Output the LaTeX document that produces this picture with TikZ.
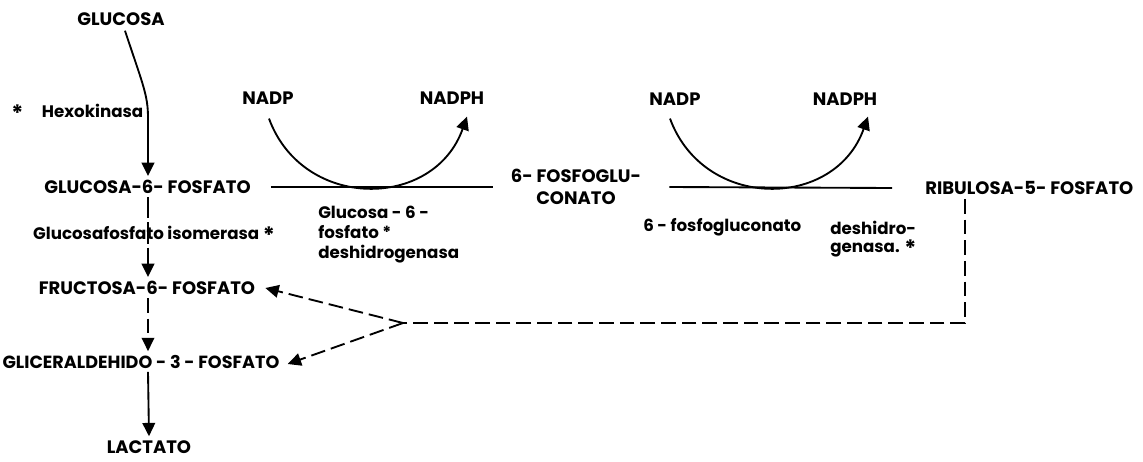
\documentclass[tikz,border=0pt]{standalone}
\usepackage{fontspec}
\setmainfont{Poppins}
\usetikzlibrary{arrows.meta,calc}
\newcommand\enzstar{\raisebox{-0.4ex}{\scalebox{1.35}{*}}}
\begin{document}
\begin{tikzpicture}[x=0.75pt,y=-0.75pt,
  lbl/.style={inner sep=0pt,font=\fontsize{13.5}{17}\selectfont\bfseries},
  enz/.style={inner sep=0pt,align=left,font=\fontsize{12.5}{13.5}\selectfont\bfseries},
  flow/.style={line width=1.4pt},
  tip/.style={-{Triangle[width=9.5pt,length=10pt]}},
  dashflow/.style={dash pattern=on 11pt off 4.5pt},
  longdash/.style={dash pattern=on 16pt off 3pt}]
\useasboundingbox (0,0) rectangle (1143,461);

% metabolites of the main (glycolytic) axis
\node[lbl] (glc)  at (121,19)    {GLUCOSA};
\node[lbl] (g6p)  at (147.5,187) {GLUCOSA-6- FOSFATO};
\node[lbl] (f6p)  at (147,288)   {FRUCTOSA-6- FOSFATO};
\node[lbl,font=\fontsize{13.2}{17}\selectfont\bfseries] (ga3p) at (141,362) {GLICERALDEHIDO - 3 - FOSFATO};
\node[lbl] (lac)  at (149,447)   {LACTATO};

% enzymes of the main axis
\node[enz,anchor=west] (hexo) at (11,113) {\enzstar\hspace{14pt}Hexokinasa};
\node[enz] (isom) at (154,235) {Glucosafosfato isomerasa \enzstar};

% oxidative branch
\node[lbl] (nadpa)  at (268,98) {NADP};
\node[lbl] (nadpha) at (452,98) {NADPH};
\node[lbl] (nadpb)  at (675,99) {NADP};
\node[lbl] (nadphb) at (845,99) {NADPH};
\node[lbl,align=center] (pg) at (576,187) {6- FOSFOGLU-\\CONATO};
\node[lbl,anchor=west] (rib) at (925,188) {RIBULOSA-5- FOSFATO};
\node[enz,anchor=north west,font=\fontsize{12.5}{15}\selectfont\bfseries] (gpdh) at (318,206) {Glucosa - 6 -\\fosfato {*}\\deshidrogenasa};
\node[enz,anchor=west] (pgdh) at (643,227) {6 - fosfogluconato};
\node[enz,anchor=north west] (pgdhb) at (830,221) {deshidro-\\genasa. \enzstar};

% glycolytic steps
\draw[flow,tip] ($(glc.south)+(4,5)$) .. controls (143,85) and (148,95) .. (148,118)
  -- ($(g6p.north)+(0.5,-4)$);
\draw[flow,tip,longdash] ($(g6p.south)+(0.5,3)$) -- ($(f6p.north)+(1,-4)$);
\draw[flow,tip,dashflow] ($(f6p.south)+(1,3)$) -- ($(ga3p.north)+(7,-4)$);
\draw[flow,tip] ($(ga3p.south)+(7,3)$) -- ($(lac.north)+(0,-4)$);

% oxidative phase
\draw[flow] ($(g6p.east)+(20,0)$) -- ($(pg.west)+(-18,0)$);
\draw[flow] ($(pg.east)+(28,0)$) -- ($(rib.west)+(-33,0)$);
\draw[flow,tip] ($(nadpa.south)+(1,14)$) .. controls (303,211) and (434,210) .. ($(nadpha.south)+(15,12)$);
\draw[flow,tip] ($(nadpb.south)+(-5,13)$) .. controls (704,211) and (835,210) .. ($(nadphb.south)+(23,11)$);

% non-oxidative return to glycolysis
\coordinate (j) at (403,323);
\draw[flow,dashflow] ($(rib.south west)+(40,4)$) |- (j);
\draw[flow,dashflow,tip] (j) -- ($(f6p.east)+(10,0)$);
\draw[flow,dashflow,tip] (j) -- ($(ga3p.east)+(8,2)$);
\end{tikzpicture}
\end{document}
